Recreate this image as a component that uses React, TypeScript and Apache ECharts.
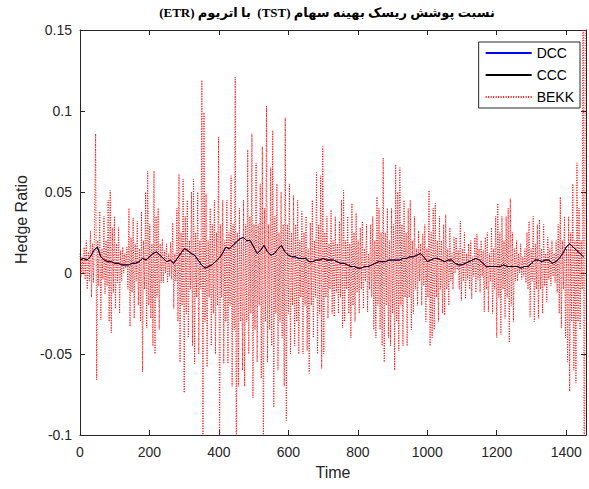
import React, { useEffect, useRef } from "react";
import * as echarts from "echarts";

// ---- data ----
const titleText = "نسبت پوشش ریسک بهینه سهام (TST)  با اتریوم (ETR)";
const seriesNames = ["DCC", "CCC", "BEKK"];
const xTicks = [0, 200, 400, 600, 800, 1000, 1200, 1400];

// CCC hedge ratio, sampled every 10 time steps (t = 0..1450)
const ccc = [
  0.008, 0.009, 0.008, 0.010, 0.014, 0.016, 0.010, 0.008, 0.007, 0.007,
  0.006, 0.006, 0.005, 0.005, 0.005, 0.006, 0.006, 0.007, 0.009, 0.008,
  0.010, 0.012, 0.013, 0.011, 0.009, 0.007, 0.008, 0.006, 0.009, 0.012,
  0.015, 0.014, 0.012, 0.011, 0.008, 0.005, 0.003, 0.004, 0.005, 0.007,
  0.009, 0.012, 0.016, 0.015, 0.017, 0.019, 0.021, 0.022, 0.020, 0.020,
  0.016, 0.012, 0.014, 0.017, 0.013, 0.011, 0.012, 0.015, 0.017, 0.013,
  0.011, 0.010, 0.010, 0.009, 0.009, 0.009, 0.007, 0.007, 0.008, 0.008,
  0.009, 0.008, 0.008, 0.008, 0.007, 0.006, 0.006, 0.005, 0.004, 0.004,
  0.003, 0.003, 0.004, 0.004, 0.005, 0.006, 0.007, 0.007, 0.007, 0.008,
  0.008, 0.008, 0.008, 0.009, 0.009, 0.010, 0.010, 0.011, 0.012, 0.010,
  0.007, 0.008, 0.009, 0.009, 0.008, 0.007, 0.008, 0.008, 0.006, 0.005,
  0.005, 0.006, 0.007, 0.008, 0.009, 0.008, 0.006, 0.004, 0.004, 0.004,
  0.004, 0.004, 0.005, 0.004, 0.004, 0.004, 0.004, 0.003, 0.004, 0.004,
  0.006, 0.008, 0.008, 0.007, 0.008, 0.008, 0.006, 0.007, 0.009, 0.012,
  0.016, 0.018, 0.016, 0.014, 0.012, 0.010,
];

// DCC hedge ratio (virtually identical to CCC, hidden beneath it)
const dcc = [...ccc];

// BEKK hedge ratio, sampled every 3 time steps (t = 0..1455)
const bekk = [
  0.012, -0.002, 0.010, 0.000, 0.016, -0.004, 0.020, -0.010, 0.013, -0.005,
  0.026, -0.015, 0.018, -0.006, 0.030, 0.086, -0.066, 0.020, -0.008, 0.038,
  -0.029, 0.015, -0.004, 0.035, -0.013, 0.020, -0.008, 0.045, -0.030, 0.051,
  -0.037, 0.028, -0.012, 0.035, -0.022, 0.018, -0.006, 0.028, -0.025, 0.014,
  -0.005, 0.016, 0.000, 0.012, 0.003, 0.016, -0.010, 0.040, -0.033, 0.022,
  -0.012, 0.034, -0.028, 0.018, -0.005, 0.032, -0.020, 0.015, -0.030, 0.038,
  -0.061, 0.020, -0.010, 0.050, -0.034, 0.063, -0.020, 0.030, -0.028, 0.018,
  -0.045, 0.063, -0.050, 0.035, -0.015, 0.040, -0.035, 0.018, -0.006, 0.021,
  -0.006, 0.014, 0.000, 0.018, -0.006, 0.012, -0.002, 0.019, -0.004, 0.031,
  -0.022, 0.012, -0.005, 0.040, -0.030, 0.061, -0.055, 0.025, -0.020, 0.058,
  -0.074, 0.035, -0.025, 0.045, -0.040, 0.020, -0.010, 0.050, -0.045, 0.058,
  -0.056, 0.025, -0.015, 0.050, -0.050, 0.020, -0.010, 0.119, -0.120, 0.099,
  -0.030, 0.049, -0.058, 0.020, -0.015, 0.040, -0.045, 0.030, -0.025, 0.045,
  -0.050, 0.025, -0.020, 0.084, -0.120, 0.030, -0.015, 0.045, -0.056, 0.020,
  -0.030, 0.045, -0.056, 0.025, -0.020, 0.060, -0.070, 0.030, -0.035, 0.121,
  -0.120, 0.025, -0.070, 0.040, -0.030, 0.020, -0.060, 0.045, -0.070, 0.030,
  -0.030, 0.076, -0.050, 0.035, -0.025, 0.086, -0.077, 0.030, -0.035, 0.068,
  -0.055, 0.030, -0.020, 0.055, -0.065, 0.078, -0.120, 0.040, -0.030, 0.103,
  -0.055, 0.030, -0.035, 0.065, -0.045, 0.088, -0.083, 0.035, -0.025, 0.055,
  -0.060, 0.025, -0.030, 0.050, -0.040, 0.030, -0.070, 0.096, -0.091, 0.030,
  -0.025, 0.055, -0.050, 0.025, -0.020, 0.048, -0.045, 0.030, -0.030, 0.045,
  -0.050, 0.020, -0.015, 0.038, -0.050, 0.025, -0.020, 0.035, -0.048, 0.015,
  -0.062, 0.031, -0.020, 0.045, -0.040, 0.020, -0.015, 0.062, -0.050, 0.030,
  -0.025, 0.060, -0.059, 0.078, -0.050, 0.025, -0.015, 0.035, -0.028, 0.018,
  -0.010, 0.039, -0.025, 0.020, -0.027, 0.035, -0.012, 0.018, -0.025, 0.032,
  -0.015, 0.045, -0.034, 0.051, -0.030, 0.020, -0.010, 0.035, -0.025, 0.018,
  -0.040, 0.043, -0.020, 0.025, -0.030, 0.037, -0.012, 0.020, -0.025, 0.028,
  -0.010, 0.032, -0.022, 0.015, -0.005, 0.030, -0.024, 0.012, -0.010, 0.030,
  -0.015, 0.035, -0.035, 0.020, -0.040, 0.047, -0.020, 0.040, -0.035, 0.025,
  -0.045, 0.071, -0.055, 0.025, -0.020, 0.040, -0.040, 0.020, -0.045, 0.040,
  -0.025, 0.030, -0.060, 0.067, -0.030, 0.050, -0.048, 0.065, -0.020, 0.030,
  -0.045, 0.045, -0.015, 0.025, -0.045, 0.040, -0.015, 0.045, -0.035, 0.020,
  -0.025, 0.035, -0.010, 0.015, -0.020, 0.026, -0.005, 0.018, -0.020, 0.024,
  -0.008, 0.030, -0.030, 0.015, -0.015, 0.051, -0.045, 0.025, -0.040, 0.040,
  -0.035, 0.043, -0.015, 0.020, -0.030, 0.035, -0.010, 0.020, -0.025, 0.030,
  -0.026, 0.036, -0.010, 0.015, -0.020, 0.028, -0.005, 0.012, -0.010, 0.022,
  0.000, 0.022, 0.002, 0.014, -0.010, 0.032, -0.017, 0.015, -0.005, 0.025,
  -0.016, 0.012, -0.004, 0.018, -0.010, 0.020, -0.016, 0.010, -0.002, 0.022,
  -0.012, 0.024, -0.004, 0.015, -0.012, 0.020, -0.002, 0.014, -0.024, 0.022,
  -0.010, 0.025, -0.024, 0.012, -0.005, 0.028, -0.025, 0.015, -0.010, 0.035,
  -0.040, 0.043, -0.015, 0.025, -0.038, 0.035, -0.010, 0.020, -0.028, 0.035,
  -0.015, 0.040, -0.043, 0.046, -0.020, 0.025, -0.030, 0.015, -0.005, 0.020,
  -0.005, 0.012, 0.000, 0.018, -0.004, 0.010, -0.002, 0.015, -0.006, 0.025,
  -0.010, 0.032, -0.027, 0.015, -0.005, 0.035, -0.030, 0.018, -0.010, 0.030,
  -0.028, 0.033, -0.010, 0.015, -0.025, 0.030, -0.008, 0.012, -0.018, 0.022,
  -0.004, 0.015, -0.008, 0.020, -0.002, 0.012, -0.006, 0.020, -0.012, 0.030,
  -0.025, 0.047, -0.034, 0.020, -0.010, 0.035, -0.040, 0.015, -0.055, 0.035,
  -0.073, 0.025, -0.030, 0.055, -0.060, 0.020, -0.068, 0.068, -0.030, 0.040,
  -0.035, 0.020, -0.010, 0.250, -0.250, 0.200,
];

const CCC_STEP = 10;
const BEKK_STEP = 3;
const X_MAX = 1457;

const axisColor = "#262626";
const font = "'Liberation Sans', Arial, Helvetica, sans-serif";

export default function App() {
  const ref = useRef<HTMLDivElement>(null);

  useEffect(() => {
    if (!ref.current) return;
    const chart = echarts.init(ref.current, undefined, { renderer: "svg" });

    const baseX = {
      type: "value" as const,
      min: 0,
      max: X_MAX,
      interval: 200,
      splitLine: { show: false },
      axisLine: { show: true, onZero: false, lineStyle: { color: axisColor, width: 1 } },
      axisTick: { show: true, inside: true, length: 5, lineStyle: { color: axisColor } },
    };
    const baseY = {
      type: "value" as const,
      min: -0.1,
      max: 0.15,
      interval: 0.05,
      splitLine: { show: false },
      axisLine: { show: true, onZero: false, lineStyle: { color: axisColor, width: 1 } },
      axisTick: { show: true, inside: true, length: 5, lineStyle: { color: axisColor } },
    };

    chart.setOption({
      animation: false,
      backgroundColor: "#ffffff",
      title: {
        text: "\u202B" + titleText + "\u202C",
        left: 327,
        top: 6,
        padding: 0,
        textAlign: "center",
        textStyle: {
          fontFamily: "'Liberation Serif', 'DejaVu Serif', 'DejaVu Sans', serif",
          fontWeight: "bold",
          fontSize: 13,
          color: "#000000",
        },
      },
      grid: { left: 80, right: 1, top: 30, bottom: 54, containLabel: false },
      legend: {
        data: seriesNames,
        orient: "vertical",
        right: 9,
        top: 42,
        padding: [4, 6, 4, 6],
        itemGap: 8,
        itemWidth: 46,
        itemHeight: 14,
        backgroundColor: "#ffffff",
        borderColor: axisColor,
        borderWidth: 1,
        borderRadius: 0,
        itemStyle: { opacity: 0 },
        textStyle: { fontFamily: font, fontSize: 14, color: "#000000" },
      },
      xAxis: [
        {
          ...baseX,
          position: "bottom",
          name: "Time",
          nameLocation: "middle",
          nameGap: 29,
          nameTextStyle: { fontFamily: font, fontSize: 16, color: axisColor },
          axisLabel: {
            fontFamily: font,
            fontSize: 14,
            color: axisColor,
            margin: 10,
            formatter: (v: number) => (xTicks.includes(v) ? String(v) : ""),
          },
        },
        { ...baseX, position: "top", axisLabel: { show: false } },
      ],
      yAxis: [
        {
          ...baseY,
          position: "left",
          name: "Hedge Ratio",
          nameLocation: "middle",
          nameGap: 50,
          nameTextStyle: { fontFamily: font, fontSize: 16, color: axisColor, padding: [0, 0, 0, 26] },
          axisLabel: { fontFamily: font, fontSize: 14, color: axisColor, margin: 8 },
        },
        { ...baseY, position: "right", axisLabel: { show: false } },
      ],
      series: [
        {
          name: "DCC",
          type: "line",
          z: 1,
          symbol: "none",
          data: dcc.map((v, i) => [i * CCC_STEP, v]),
          lineStyle: { color: "#0000ff", width: 1 },
          itemStyle: { color: "#0000ff" },
        },
        {
          name: "CCC",
          type: "line",
          z: 4,
          symbol: "none",
          data: ccc.map((v, i) => [i * CCC_STEP, v]),
          lineStyle: { color: "#000000", width: 1 },
          itemStyle: { color: "#000000" },
        },
        {
          name: "BEKK",
          type: "line",
          z: 2,
          symbol: "none",
          clip: true,
          data: bekk.map((v, i) => [i * BEKK_STEP, v]),
          lineStyle: { color: "#ff0000", width: 1, type: [1, 1.5] },
          itemStyle: { color: "#ff0000" },
        },
      ],
    });

    return () => chart.dispose();
  }, []);

  return (
    <div
      ref={ref}
      style={{ position: "fixed", left: 0, top: 0, width: 589, height: 489, background: "#fff" }}
    />
  );
}
